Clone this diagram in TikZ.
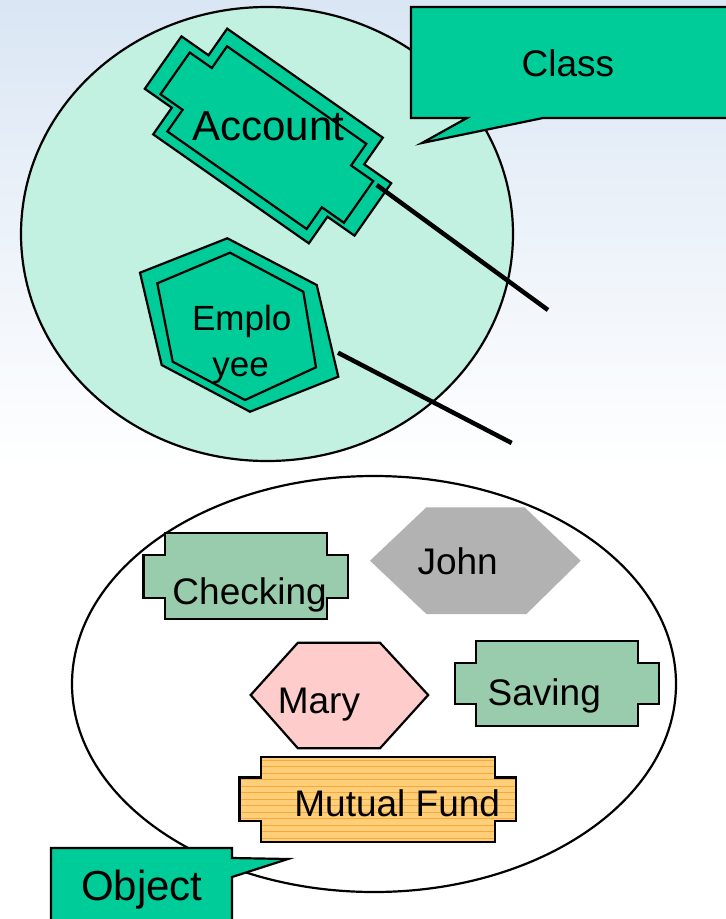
\documentclass[tikz,border=0pt]{standalone}
\usepackage{fontspec}
\setmainfont{Liberation Sans}
\usepackage{tikz}

\definecolor{classgreen}{RGB}{0,204,153}
\definecolor{poolmint}{RGB}{194,240,225}
\definecolor{objgreen}{RGB}{153,204,172}
\definecolor{johngray}{RGB}{178,178,178}
\definecolor{marypink}{RGB}{255,204,204}
\definecolor{fundorange}{RGB}{255,206,120}
\definecolor{fundline}{RGB}{245,168,60}
\definecolor{bgblue}{RGB}{218,230,244}

\tikzset{
  edge/.style={draw=black, line width=2.2pt, line join=miter},
  classshape/.style={edge, fill=classgreen},
  objshape/.style={edge, fill=objgreen},
  wire/.style={line width=4.5pt},
  lbl/.style={anchor=base, inner sep=0pt},
}
% body half-length, body half-width, band half-length, band half-width
\newcommand{\crosspath}[4]{(-#1,-#2) -- (#1,-#2) -- (#1,-#4) -- (#3,-#4) -- (#3,#4) -- (#1,#4) -- (#1,#2) -- (-#1,#2) -- (-#1,#4) -- (-#3,#4) -- (-#3,-#4) -- (-#1,-#4) -- cycle}
\newcommand{\objfont}{\fontsize{37}{44}\selectfont}

\begin{document}
\begin{tikzpicture}[x=1pt,y=-1pt]
  \clip (0,0) rectangle (726,919);
  \fill[white] (0,0) rectangle (726,919);
  \shade[top color=bgblue, bottom color=white] (0,0) rectangle (726,470);

  % classes
  \draw[edge, fill=poolmint] (267,234) ellipse (246 and 227);
  \draw[classshape] (411,7) -- (740,7) -- (740,118) -- (543,118) -- (422,143) -- (467,118) -- (411,118) -- cycle;
  \node[lbl, font=\fontsize{37}{44}\selectfont] (class) at (568,76.7) {Class};

  \begin{scope}[shift={(268,136)}, rotate=-35]
    \draw[classshape] \crosspath{95}{64.5}{128}{32};
    \draw[classshape, shift={(0,2)}] \crosspath{85}{52}{112}{25.5};
  \end{scope}
  \node[lbl, font=\fontsize{42}{50}\selectfont] (account) at (268.3,140) {Account};

  \draw[classshape] (140,272.7) -- (227.3,238.3) -- (316.7,285) -- (338.3,376.7) -- (250,411.7) -- (161.7,365) -- cycle;
  \draw[classshape] (157.3,283.3) -- (230,252.7) -- (303.3,291.7) -- (316,367.3) -- (245,400) -- (172.7,361.7) -- cycle;
  \node[lbl, font=\fontsize{35}{45}\selectfont] (emplo) at (241.7,330) {Emplo};
  \node[lbl, font=\fontsize{35}{45}\selectfont] (yee) at (240.7,376.7) {yee};

  \coordinate (acctpin) at (376.7,185);
  \coordinate (acctend) at (548,310);
  \coordinate (emppin) at (338,352.7);
  \coordinate (empend) at (511.7,443);
  \draw[wire] (acctpin) -- (acctend);
  \draw[wire] (emppin) -- (empend);

  % objects
  \draw[edge, fill=white] (374,684) ellipse (302 and 208);

  \draw[objshape, shift={(245.6,576.3)}] \crosspath{81}{43}{102.2}{21.3};
  \node[lbl, font=\objfont] (checking) at (249.6,604) {Checking};

  \fill[johngray] (370,560.7) -- (426.4,507.3) -- (524.6,507.3) -- (580.7,560.7) -- (526.4,614) -- (426.4,614) -- cycle;
  \node[lbl, font=\objfont] (john) at (457.7,574) {John};

  \draw[edge, fill=marypink] (250.7,695) -- (297.9,642.7) -- (380,642.7) -- (428.2,695) -- (380,748.3) -- (297.9,748.3) -- cycle;
  \node[lbl, font=\objfont] (mary) at (318.9,713.3) {Mary};

  \draw[objshape, shift={(556.9,683.5)}] \crosspath{81.1}{42.5}{102.1}{20.8};
  \node[lbl, font=\objfont] (saving) at (544.3,705.7) {Saving};

  \begin{scope}
    \clip[shift={(377.8,799.2)}] \crosspath{117.2}{42.5}{138.3}{21.7};
    \fill[fundorange] (239,756) rectangle (517,842);
    \foreach \y in {760,766.5,...,842}
      \draw[fundline, line width=0.6pt] (239,\y) -- (517,\y);
  \end{scope}
  \draw[edge, shift={(377.8,799.2)}] \crosspath{117.2}{42.5}{138.3}{21.7};
  \node[lbl, font=\objfont] (fund) at (397.2,816) {Mutual Fund};

  \draw[classshape] (51,848) -- (232,848) -- (232,858) -- (288,859) -- (232,877) -- (232,930) -- (51,930) -- cycle;
  \node[lbl, font=\fontsize{42}{50}\selectfont] (object) at (141.7,900.7) {Object};
\end{tikzpicture}
\end{document}
